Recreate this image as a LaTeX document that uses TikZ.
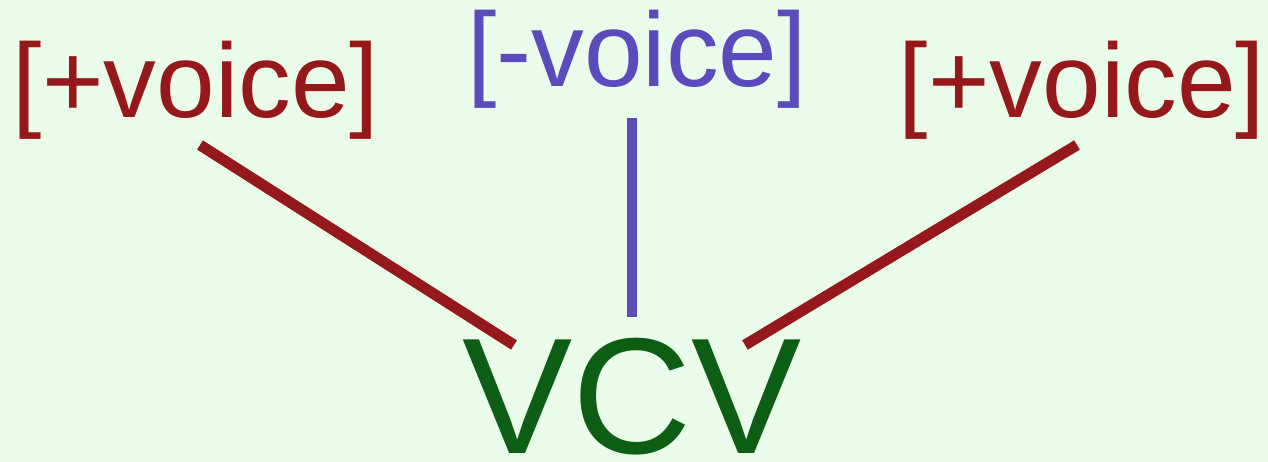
\documentclass[tikz,border=0pt]{standalone}
\usepackage{fontspec}
\setmainfont{Liberation Sans}
\usepackage{tikz}
\definecolor{fondo}{RGB}{234,252,234}
\definecolor{rojo}{RGB}{150,24,24}
\definecolor{azul}{RGB}{90,75,190}
\definecolor{verde}{RGB}{11,94,18}

\begin{document}
\begin{tikzpicture}[
	rasgo/.style={anchor=base,inner sep=0pt,font=\fontsize{60}{72}\selectfont},
	arco/.style={line width=6.2pt,line cap=butt}]
		\fill[fondo] (0,0) rectangle (25.36,9.24);
		\useasboundingbox (0,0) rectangle (25.36,9.24);

		%Nodos
		\node [rasgo,text=rojo] (nodo0) at (3.92,6.88) {[+voice]};
		\node [rasgo,text=azul] (nodo1) at (12.74,7.5) {[-voice]};
		\node [rasgo,text=rojo] (nodo2) at (21.64,6.88) {[+voice]};
		\node [anchor=base,inner sep=0pt,text=verde,font=\fontsize{94}{110}\selectfont] (nodo3) at (12.64,0.16) {VCV};

		%Arcos
		\draw[arco,rojo] ([shift={(0.08,-0.54)}]nodo0.base)--([shift={(-2.36,2.18)}]nodo3.base);
		\draw[arco,azul] ([shift={(-0.1,-0.62)}]nodo1.base)--([shift={(0,2.74)}]nodo3.base);
		\draw[arco,rojo] ([shift={(-0.1,-0.54)}]nodo2.base)--([shift={(2.26,2.18)}]nodo3.base);
\end{tikzpicture}
\end{document}
